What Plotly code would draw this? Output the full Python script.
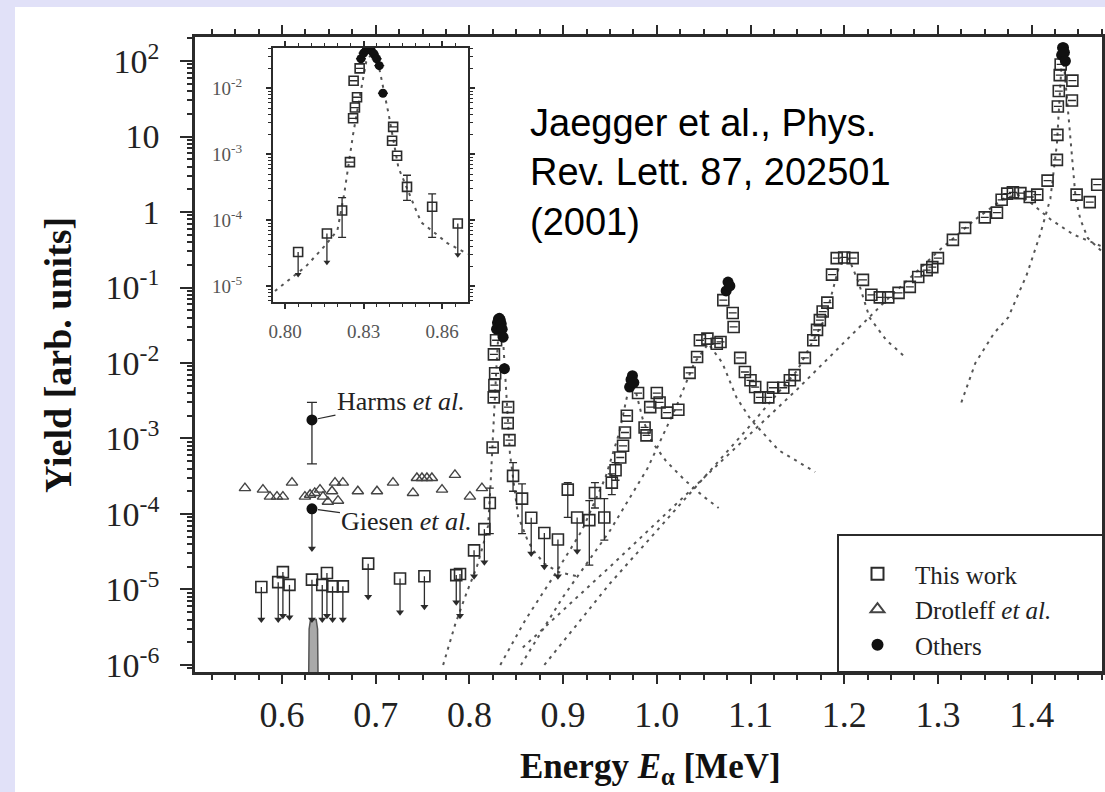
import math
import plotly.graph_objects as go

# ---------------------------------------------------------------------------
# 19F(alpha,p)-type excitation yield: this work, Drotleff et al. and others
# Energy E_alpha in MeV, yield in arbitrary units
# ---------------------------------------------------------------------------

# This work: measured points (error-bar bounds where a bar is drawn, else None)
tw_energy = [0.8218, 0.8248, 0.8260, 0.8262, 0.8267, 0.8275, 0.8285, 0.8409, 0.8413, 0.8428,
             0.8466, 0.8562, 0.905, 0.928, 0.934, 0.944, 0.952, 0.956, 0.961, 0.964,
             0.966, 0.968, 0.980, 0.987, 0.989, 0.993, 1.000, 1.003, 1.011, 1.023,
             1.035, 1.043, 1.046, 1.054, 1.064, 1.068, 1.071, 1.081, 1.082, 1.089,
             1.094, 1.100, 1.105, 1.110, 1.119, 1.124, 1.135, 1.142, 1.147, 1.158,
             1.167, 1.171, 1.174, 1.177, 1.182, 1.187, 1.192, 1.200, 1.209, 1.220,
             1.229, 1.238, 1.247, 1.258, 1.270, 1.279, 1.288, 1.294, 1.300, 1.316,
             1.329, 1.350, 1.363, 1.368, 1.374, 1.380, 1.388, 1.398, 1.406, 1.417,
             1.427, 1.4275, 1.428, 1.429, 1.430, 1.431, 1.443, 1.4435, 1.448, 1.462,
             1.470]
tw_yield = [1.4e-4, 7.6e-4, 3.5e-3, 1.3e-2, 5.1e-3, 7.3e-3, 2.0e-2, 1.6e-3, 2.6e-3, 9.5e-4,
            3.2e-4, 1.6e-4, 2.1e-4, 8.3e-5, 1.9e-4, 9.0e-5, 2.6e-4, 3.8e-4, 5.6e-4, 8.0e-4,
            1.2e-3, 2.0e-3, 4.0e-3, 1.4e-3, 1.1e-3, 2.6e-3, 4.0e-3, 3.0e-3, 2.2e-3, 2.4e-3,
            7.4e-3, 1.2e-2, 2.0e-2, 2.1e-2, 1.8e-2, 1.9e-2, 6.8e-2, 4.6e-2, 3.0e-2, 1.17e-2,
            7.6e-3, 5.9e-3, 4.8e-3, 3.5e-3, 3.5e-3, 4.7e-3, 4.7e-3, 5.9e-3, 6.9e-3, 1.17e-2,
            2.0e-2, 2.75e-2, 3.7e-2, 4.8e-2, 6.3e-2, 0.148, 0.245, 0.25, 0.245, 0.126,
            0.080, 0.074, 0.074, 0.085, 0.102, 0.138, 0.17, 0.186, 0.245, 0.427,
            0.617, 0.85, 0.98, 1.45, 1.75, 1.82, 1.78, 1.58, 1.7, 2.6,
            4.9, 10.5, 25.0, 40.0, 65.0, 90.0, 30.0, 55.0, 1.7, 1.35,
            2.3]
tw_low = [5.5e-5, None, None, None, None, None, None, None, None, None,
          2.0e-4, 5.5e-5, 9.0e-5, 2.1e-5, 1.2e-4, 4.5e-5, 1.8e-4, 2.8e-4] + [None] * 73
tw_high = [2.2e-4, None, None, None, None, None, None, None, None, None,
           4.8e-4, 2.5e-4, 2.6e-4, 1.5e-4, 2.6e-4, 1.6e-4, 3.4e-4, 4.8e-4] + [None] * 73

# This work: upper limits (point and arrow tip)
ul_energy = [0.578, 0.596, 0.601, 0.608, 0.632, 0.643, 0.648, 0.654, 0.665, 0.692,
             0.726, 0.752, 0.786, 0.790, 0.805, 0.816, 0.866, 0.880, 0.8945, 0.915]
ul_yield = [1.08e-5, 1.25e-5, 1.7e-5, 1.15e-5, 1.35e-5, 1.15e-5, 1.65e-5, 1.1e-5, 1.1e-5, 2.2e-5,
            1.4e-5, 1.5e-5, 1.55e-5, 1.6e-5, 3.3e-5, 6.3e-5, 8.9e-5, 5.6e-5, 4.6e-5, 9.0e-5]
ul_tip = [4.0e-6, 4.0e-6, 4.5e-6, 4.3e-6, 4.0e-6, 4.0e-6, 4.5e-6, 4.0e-6, 4.0e-6, 8.0e-6,
          5.0e-6, 5.9e-6, 6.8e-6, 4.5e-6, 1.5e-5, 2.3e-5, 3.0e-5, 2.0e-5, 1.5e-5, 3.2e-5]

# Drotleff et al.
dr_energy = [0.5605, 0.5797, 0.5872, 0.5947, 0.601, 0.6107, 0.6245, 0.630, 0.635, 0.6406,
             0.6438, 0.649, 0.6534, 0.6566, 0.6598, 0.665, 0.681, 0.7014, 0.7185, 0.7398,
             0.744, 0.7494, 0.7547, 0.760, 0.7708, 0.7846, 0.8006, 0.8134]
dr_yield = [2.2e-4, 2.1e-4, 1.7e-4, 1.7e-4, 1.7e-4, 2.6e-4, 1.7e-4, 1.8e-4, 1.9e-4, 2.1e-4,
            1.7e-4, 1.45e-4, 2.0e-4, 2.6e-4, 1.5e-4, 2.6e-4, 2.0e-4, 2.0e-4, 2.6e-4, 1.9e-4,
            3.0e-4, 3.0e-4, 3.0e-4, 3.0e-4, 2.1e-4, 3.3e-4, 1.7e-4, 2.2e-4]

# Others: Harms et al. (with bar) and resonance-peak points
ot_energy = [0.632, 0.829, 0.830, 0.831, 0.832, 0.833, 0.834, 0.835, 0.836, 0.8374,
             0.971, 0.9725, 0.974, 0.9755, 1.074, 1.076, 1.078,
             1.432, 1.433, 1.434, 1.435, 1.436]
ot_yield = [1.76e-3, 0.028, 0.034, 0.038, 0.039, 0.037, 0.033, 0.028, 0.022, 8.4e-3,
            4.8e-3, 6.0e-3, 6.8e-3, 5.5e-3, 0.09, 0.118, 0.105,
            120.0, 150.0, 150.0, 130.0, 100.0]
ot_low = [4.6e-4] + [None] * 21
ot_high = [3.0e-3] + [None] * 21

# Others: Giesen et al. upper limit
gi_energy = [0.632]
gi_yield = [1.17e-4]
gi_tip = [3.5e-5]

# Narrow 0.633 MeV resonance profile (shaded)
sp_energy = [0.6285, 0.6290, 0.6305, 0.6365, 0.6380, 0.6385]
sp_yield = [7e-7, 3.0e-6, 4.0e-6, 4.0e-6, 3.0e-6, 7e-7]

# Calculated resonance contributions (dotted curves)
res1_energy = [0.772, 0.785, 0.797, 0.808, 0.815, 0.82, 0.8226, 0.824, 0.826, 0.8286, 0.831, 0.8334,
               0.836, 0.8395, 0.8433, 0.8495, 0.852, 0.856, 0.862, 0.869, 0.88, 0.895, 0.915]
res1_yield = [1e-6, 3.5e-6, 9e-6, 2e-5, 4e-5, 7e-5, 2.5e-4, 5.8e-4, 2e-3, 7.6e-3, 2.5e-2, 3.5e-2,
              2e-2, 4.2e-3, 6.3e-4, 1.6e-4, 9.3e-5, 7e-5, 4.5e-5, 3.2e-5, 2.2e-5, 1.7e-5, 1.5e-5]
res2_energy = [0.833, 0.86, 0.89, 0.92, 0.945, 0.96, 0.968, 0.973, 0.978, 0.985, 0.995, 1.01, 1.03, 1.05, 1.066]
res2_yield = [1e-6, 4e-6, 1.5e-5, 6e-5, 3e-4, 1.2e-3, 3.5e-3, 6.5e-3, 4e-3, 1.8e-3, 9e-4, 5e-4, 2.8e-4, 1.7e-4, 1.2e-4]
res3_energy = [0.855, 0.9, 0.95, 0.99, 1.02, 1.04, 1.055, 1.07, 1.085, 1.1, 1.13, 1.169]
res3_yield = [1e-6, 8e-6, 6e-5, 4e-4, 2.5e-3, 1e-2, 1.8e-2, 1e-2, 3.5e-3, 1.8e-3, 7e-4, 3.6e-4]
res4_energy = [0.88, 0.95, 1.0, 1.05, 1.1, 1.15, 1.18, 1.195, 1.205, 1.215, 1.227, 1.245, 1.265]
res4_yield = [1e-6, 1.2e-5, 6e-5, 3e-4, 1.5e-3, 8e-3, 4e-2, 0.2, 0.24, 0.12, 0.04, 0.02, 0.012]
res5_energy = [0.857, 0.95, 1.05, 1.15, 1.245, 1.3, 1.34, 1.37, 1.385, 1.4, 1.42, 1.445, 1.475]
res5_yield = [1.7e-6, 2e-5, 3e-4, 4.5e-3, 6.8e-2, 0.3, 0.8, 1.5, 1.7, 1.3, 0.8, 0.5, 0.35]
res6_energy = [1.325, 1.34, 1.36, 1.375, 1.395, 1.409, 1.42, 1.427, 1.433, 1.438, 1.443, 1.447, 1.452, 1.46, 1.475]
res6_yield = [3e-3, 1e-2, 2.5e-2, 4e-2, 0.15, 0.5, 1.5, 8.0, 150.0, 30.0, 5.0, 1.5, 0.8, 0.45, 0.3]

resonances = [(res1_energy, res1_yield), (res2_energy, res2_yield), (res3_energy, res3_yield),
              (res4_energy, res4_yield), (res5_energy, res5_yield), (res6_energy, res6_yield)]

# Axis tick labels
main_yticks = [1e-6, 1e-5, 1e-4, 1e-3, 1e-2, 1e-1, 1, 10, 100]
main_yticktext = ["10<sup>-6</sup>", "10<sup>-5</sup>", "10<sup>-4</sup>", "10<sup>-3</sup>",
                  "10<sup>-2</sup>", "10<sup>-1</sup>", "1", "10", "10<sup>2</sup>"]
inset_xticks = [0.80, 0.83, 0.86]
inset_xticktext = ["0.80", "0.83", "0.86"]
inset_yticks = [1e-5, 1e-4, 1e-3, 1e-2]
inset_yticktext = ["10<sup>-5</sup>", "10<sup>-4</sup>", "10<sup>-3</sup>", "10<sup>-2</sup>"]

# ---------------------------------------------------------------------------
W, H = 1105, 792
L, R, T, B = 195, 1102, 37, 672          # plot frame in pixels
INK = "#2b2b2b"
DOT = "#555555"
SERIF = "Liberation Serif"
INSET_X = (0.7954, 0.8699)


def fx(p):
    return (p - L) / (R - L)


def fy(p):
    return (B - p) / (B - T)


def bars(vals, bounds, upper):
    out = []
    for v, b in zip(vals, bounds):
        if b is None:
            out.append(0.0)
        else:
            out.append(b - v if upper else v - b)
    return out


def in_inset(xs, *cols):
    keep = [i for i, e in enumerate(xs) if INSET_X[0] <= e <= INSET_X[1]]
    return [[xs[i] for i in keep]] + [[c[i] for i in keep] for c in cols]


fig = go.Figure()


def add_panel(xa, ya, msize, inset=False, legend=False):
    # dotted resonance curves
    curves = [resonances[0]] if inset else resonances
    for ex, yy in curves:
        fig.add_trace(go.Scatter(x=ex, y=yy, mode="lines", xaxis=xa, yaxis=ya, showlegend=False,
                                 line=dict(color=DOT, width=2, dash="3px,5px"), hoverinfo="skip"))
    if not inset:
        fig.add_trace(go.Scatter(x=sp_energy, y=sp_yield, mode="lines", fill="toself", xaxis=xa, yaxis=ya,
                                 fillcolor="#a9a9a9", line=dict(color="#555", width=1.5), showlegend=False))
    # this work, measured
    e, y, lo, hi = (in_inset(tw_energy, tw_yield, tw_low, tw_high) if inset
                    else [tw_energy, tw_yield, tw_low, tw_high])
    fig.add_trace(go.Scatter(
        x=e, y=y, mode="markers", name="This work", xaxis=xa, yaxis=ya, showlegend=legend,
        legendrank=1,
        marker=dict(symbol="square-open", size=msize, color=INK, line=dict(width=1.6, color=INK)),
        error_y=dict(type="data", symmetric=False, array=bars(y, hi, True), arrayminus=bars(y, lo, False),
                     color=INK, thickness=1.3, width=4)))
    # this work, upper limits
    e, y, tip = in_inset(ul_energy, ul_yield, ul_tip) if inset else [ul_energy, ul_yield, ul_tip]
    fig.add_trace(go.Scatter(
        x=e, y=y, mode="markers", xaxis=xa, yaxis=ya, showlegend=False,
        marker=dict(symbol="square-open", size=msize, color=INK, line=dict(width=1.6, color=INK)),
        error_y=dict(type="data", symmetric=False, array=[0.0] * len(y),
                     arrayminus=[a - b for a, b in zip(y, tip)], color=INK, thickness=1.3, width=0)))
    fig.add_trace(go.Scatter(x=e, y=tip, mode="markers", xaxis=xa, yaxis=ya, showlegend=False,
                             marker=dict(symbol="triangle-down", size=7 if not inset else 6, color=INK)))
    if not inset:
        fig.add_trace(go.Scatter(
            x=dr_energy, y=dr_yield, mode="markers", name="Drotleff <i>et al.</i>", xaxis=xa, yaxis=ya,
            showlegend=legend, legendrank=2,
            marker=dict(symbol="triangle-up-open", size=10, color="#444", line=dict(width=1.4, color="#444"))))
    # others
    e, y, lo, hi = (in_inset(ot_energy, ot_yield, ot_low, ot_high) if inset
                    else [ot_energy, ot_yield, ot_low, ot_high])
    fig.add_trace(go.Scatter(
        x=e, y=y, mode="markers", name="Others", xaxis=xa, yaxis=ya, showlegend=legend, legendrank=3,
        marker=dict(symbol="circle", size=msize, color="#111"),
        error_y=dict(type="data", symmetric=False, array=bars(y, hi, True), arrayminus=bars(y, lo, False),
                     color=INK, thickness=1.3, width=5)))
    if not inset:
        fig.add_trace(go.Scatter(
            x=gi_energy, y=gi_yield, mode="markers", xaxis=xa, yaxis=ya, showlegend=False,
            marker=dict(symbol="circle", size=msize, color="#111"),
            error_y=dict(type="data", symmetric=False, array=[0.0],
                         arrayminus=[a - b for a, b in zip(gi_yield, gi_tip)], color=INK, thickness=1.3, width=0)))
        fig.add_trace(go.Scatter(x=gi_energy, y=gi_tip, mode="markers", xaxis=xa, yaxis=ya, showlegend=False,
                                 marker=dict(symbol="triangle-down", size=7, color=INK)))


add_panel("x", "y", 11, inset=False, legend=True)
add_panel("x2", "y2", 9, inset=True, legend=False)

frame = dict(showline=True, linecolor=INK, linewidth=2.5, mirror="ticks", ticks="outside",
             tickcolor=INK, tickwidth=2, showgrid=False, zeroline=False, automargin=False)
inset_frame = dict(showline=True, linecolor=INK, linewidth=2, mirror="ticks", ticks="outside",
                   tickcolor=INK, tickwidth=1.5, showgrid=False, zeroline=False, ticklen=5,
                   automargin=False)

fig.update_layout(
    width=W, height=H,
    margin=dict(l=L, r=W - R, t=T, b=H - B, pad=0, autoexpand=False),
    paper_bgcolor="#e1e1f8", plot_bgcolor="white",
    showlegend=True,
    xaxis=dict(domain=[0, 1], range=[0.5072, 1.4751], tickmode="linear", tick0=0.6, dtick=0.1,
               tickformat=".1f", ticklen=9, ticklabelstandoff=0,
               tickfont=dict(family=SERIF, size=36, color="#222"),
               minor=dict(ticks="outside", tick0=0.5, dtick=0.025, ticklen=5, tickcolor=INK, tickwidth=1.5),
               **frame),
    yaxis=dict(domain=[0, 1], type="log", range=[-6.093, 2.318], tickmode="array",
               tickvals=main_yticks, ticktext=main_yticktext, ticklen=12, ticklabelstandoff=14,
               tickfont=dict(family=SERIF, size=34, color="#222"),
               minor=dict(ticks="outside", dtick="D1", ticklen=5, tickcolor=INK, tickwidth=1.5),
               **frame),
    xaxis2=dict(domain=[fx(273), fx(468)], anchor="y2", range=list(INSET_X), tickmode="array",
                tickvals=inset_xticks, ticktext=inset_xticktext, ticklabelstandoff=6,
                tickfont=dict(family=SERIF, size=19, color="#555"),
                minor=dict(ticks="outside", tick0=0.8, dtick=0.005, ticklen=3, tickcolor=INK, tickwidth=1.2),
                **inset_frame),
    yaxis2=dict(domain=[fy(302), fy(48)], anchor="x2", type="log", range=[-5.24, -1.39], tickmode="array",
                tickvals=inset_yticks, ticktext=inset_yticktext, ticklabelstandoff=20,
                tickfont=dict(family=SERIF, size=19, color="#555"),
                minor=dict(ticks="outside", dtick="D1", ticklen=3, tickcolor=INK, tickwidth=1.2),
                **inset_frame),
    legend=dict(x=fx(840), y=fy(551), xanchor="left", yanchor="top", bgcolor="rgba(0,0,0,0)",
                borderwidth=0, font=dict(family=SERIF, size=25, color="#222"),
                itemsizing="constant", itemwidth=65, tracegroupgap=0, traceorder="normal"),
    shapes=[
        dict(type="rect", xref="paper", yref="paper", x0=fx(15), x1=fx(W + 5), y0=fy(H + 5), y1=fy(7),
             fillcolor="white", line=dict(width=0), layer="below"),
        # legend frame
        dict(type="rect", xref="paper", yref="paper", x0=fx(838), x1=fx(1103), y0=fy(672), y1=fy(535),
             fillcolor="white", line=dict(width=2, color=INK), layer="above"),
    ],
    annotations=[
        dict(xref="paper", yref="paper", x=fx(528), y=fy(100), xanchor="left", yanchor="top", align="left",
             showarrow=False, font=dict(family="Liberation Sans", size=38, color="black"),
             text="Jaegger et al., Phys.<br>Rev. Lett. 87, 202501<br>(2001)"),
        dict(xref="x", yref="y", x=ot_energy[0], y=math.log10(ot_yield[0]), ax=89, ay=-18,
             showarrow=True, arrowhead=0, arrowwidth=1.2, arrowcolor=INK, standoff=6,
             text="Harms <i>et al.</i>", font=dict(family=SERIF, size=26, color="#222")),
        dict(xref="x", yref="y", x=gi_energy[0], y=math.log10(gi_yield[0]), ax=95, ay=13,
             showarrow=True, arrowhead=0, arrowwidth=1.2, arrowcolor=INK, standoff=6,
             text="Giesen <i>et al.</i>", font=dict(family=SERIF, size=26, color="#222")),
        dict(xref="paper", yref="paper", x=fx(650), y=fy(768), xanchor="center", yanchor="middle",
             showarrow=False, font=dict(family=SERIF, size=35, color="#111"),
             text="<b>Energy <i>E</i><sub>α</sub> [MeV]</b>"),
        dict(xref="paper", yref="paper", x=fx(58), y=fy(355), xanchor="center", yanchor="middle",
             showarrow=False, textangle=-90, font=dict(family=SERIF, size=38, color="#111"),
             text="<b>Yield [arb. units]</b>"),
    ],
)

fig.write_html("out.html")
